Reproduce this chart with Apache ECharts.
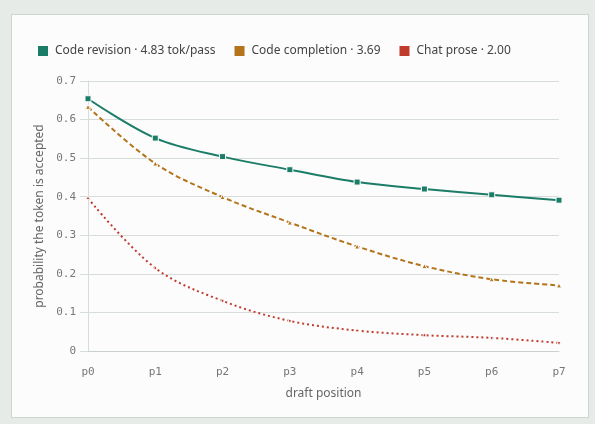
<!DOCTYPE html>
<html><head><meta charset="utf-8">
<script src="https://cdn.jsdelivr.net/npm/echarts@6/dist/echarts.min.js"></script>
<style>
html,body{margin:0;padding:0;background:#e7ebe8;}
#card{position:absolute;left:11px;top:14px;width:578px;height:404px;background:#fcfcfc;border:1px solid #cfd6d2;box-sizing:border-box;}
#c{position:absolute;left:0;top:0;width:595px;height:424px;}
</style></head>
<body>
<div id="card"></div>
<div id="c"></div>
<script>
const categories = ['p0','p1','p2','p3','p4','p5','p6','p7'];
const codeRevision = [0.654, 0.552, 0.504, 0.470, 0.438, 0.420, 0.405, 0.391];
const codeCompletion = [0.633, 0.486, 0.399, 0.333, 0.271, 0.220, 0.186, 0.170];
const chatProse = [0.396, 0.215, 0.130, 0.078, 0.053, 0.041, 0.034, 0.021];
const seriesNames = ['Code revision · 4.83 tok/pass', 'Code completion · 3.69', 'Chat prose · 2.00'];
const yTicks = [0, 0.1, 0.2, 0.3, 0.4, 0.5, 0.6, 0.7];

const chart = echarts.init(document.getElementById('c'), null, {renderer:'canvas'});
const mono = 'DejaVu Sans Mono';
const sans = 'Noto Sans';
function mk(name, data, color, type, symbol, size){
  return {
    name, type:'line', data, smooth:0.35, symbol, symbolSize:size,
    lineStyle:{color, width:2, type},
    itemStyle:{color, borderColor:'#fcfcfc', borderWidth:1},
    emphasis:{disabled:true}
  };
}
chart.setOption({
  animation:false,
  backgroundColor:'transparent',
  color:['#1b7d67','#b3741c','#c13b2c'],
  legend:{
    left:31, top:39, itemWidth:12, itemHeight:12, itemGap:17,
    icon:'rect',
    textStyle:{fontFamily:sans, fontSize:12, color:'#444', padding:[0,0,0,1]},
    data:seriesNames
  },
  grid:{left:88, right:36, top:81, bottom:73, containLabel:false},
  xAxis:{
    type:'category', data:categories, boundaryGap:false,
    name:'draft position', nameLocation:'middle', nameGap:37,
    nameTextStyle:{fontFamily:sans, fontSize:12, color:'#666'},
    axisLine:{lineStyle:{color:'#c9d0cd'}},
    axisTick:{show:false},
    axisLabel:{fontFamily:mono, fontSize:11, color:'#777', margin:16},
    splitLine:{show:false}
  },
  yAxis:{
    type:'value', min:0, max:0.7, interval:0.1,
    name:'probability the token is accepted', nameLocation:'middle', nameGap:40,
    nameTextStyle:{fontFamily:sans, fontSize:12, color:'#666'},
    axisLine:{show:true, lineStyle:{color:'#d6dcd9'}},
    axisTick:{show:true, length:8, lineStyle:{color:'#d6dcd9'}},
    axisLabel:{fontFamily:mono, fontSize:11, color:'#777', margin:12,
      formatter:v=>{ const t=yTicks.find(x=>Math.abs(x-v)<1e-9); return t===0?'0':String(+(t??v).toFixed(1)); }},
    splitLine:{lineStyle:{color:'#d6dcd9'}}
  },
  series:[
    mk(seriesNames[0], codeRevision, '#1b7d67', 'solid', 'rect', 6),
    mk(seriesNames[1], codeCompletion, '#b3741c', [5,3], 'triangle', 5),
    mk(seriesNames[2], chatProse, '#c13b2c', [2,3], 'circle', 3)
  ]
});
</script>
</body></html>
